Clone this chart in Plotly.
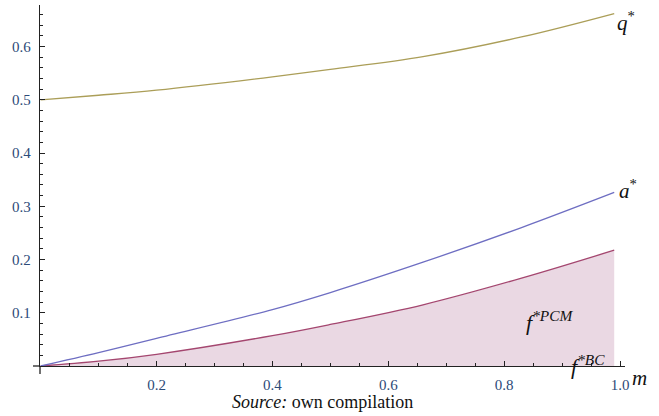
import plotly.graph_objects as go

# values
m_vals = [0.0, 0.1, 0.2, 0.4, 0.5, 0.66, 0.83, 0.99]
q_star = [0.500, 0.5085, 0.518, 0.543, 0.557, 0.581, 0.618, 0.662]
a_star = [0.000, 0.025, 0.052, 0.106, 0.138, 0.195, 0.260, 0.326]
f_pcm = [0.000, 0.009, 0.022, 0.057, 0.078, 0.115, 0.165, 0.2175]

x_tickvals = [0.2, 0.4, 0.6, 0.8, 1.0]
x_ticktext = ["0.2", "0.4", "0.6", "0.8", "1.0"]
y_tickvals = [0.1, 0.2, 0.3, 0.4, 0.5, 0.6]
y_ticktext = ["0.1", "0.2", "0.3", "0.4", "0.5", "0.6"]

serif = "Liberation Serif, Times New Roman, serif"
tick_color = "#2c4a78"

fig = go.Figure()
fig.add_trace(go.Scatter(x=m_vals, y=f_pcm, mode="lines", fill="tozeroy",
                         fillcolor="#ead8e3", line=dict(color="#a4466f", width=1.3, shape="spline"),
                         hoverinfo="skip"))
fig.add_trace(go.Scatter(x=m_vals, y=a_star, mode="lines",
                         line=dict(color="#6e6ec2", width=1.3, shape="spline"), hoverinfo="skip"))
fig.add_trace(go.Scatter(x=m_vals, y=q_star, mode="lines",
                         line=dict(color="#ab9e58", width=1.3, shape="spline"), hoverinfo="skip"))

axis_common = dict(showgrid=False, zeroline=False, showline=True, linecolor="#222", linewidth=1.3,
                   ticks="inside", ticklen=5, tickwidth=1.2, tickcolor="#222",
                   tickfont=dict(family=serif, size=15, color=tick_color))

fig.update_xaxes(range=[-0.0012, 1.0086], tickvals=x_tickvals, ticktext=x_ticktext,
                 minor=dict(dtick=0.05, tick0=0, ticks="inside", ticklen=3, tickcolor="#222", tickwidth=1),
                 ticklabelstandoff=5, **axis_common)
fig.update_yaxes(range=[0, 0.678], tickvals=y_tickvals, ticktext=y_ticktext,
                 minor=dict(dtick=0.02, tick0=0, ticks="inside", ticklen=3, tickcolor="#222", tickwidth=1),
                 ticklabelstandoff=5, **axis_common)

ann_font = dict(family=serif, size=21, color="#111")
annotations = [
    dict(x=0.99, y=0.662, text="<i>q</i><sup>*</sup>", xanchor="left", yanchor="middle", xshift=1, yshift=-8,
         font=ann_font),
    dict(x=0.99, y=0.326, text="<i>a</i><sup>*</sup>", xanchor="left", yanchor="middle", xshift=3, yshift=3,
         font=ann_font),
    dict(x=0.835, y=0.084, text="<i>f</i><sup><i>*PCM</i></sup>", xanchor="left", yanchor="middle",
         font=dict(family=serif, size=22, color="#111")),
    dict(x=0.912, y=0.0, text="<i>f</i><sup><i>*BC</i></sup>", xanchor="left", yanchor="middle", yshift=1,
         font=dict(family=serif, size=22, color="#111")),
    dict(x=1.0086, y=0.0, text="<i>m</i>", xanchor="left", yanchor="top", xshift=5, yshift=2,
         font=dict(family=serif, size=21, color="#111")),
    dict(x=0.5, xref="paper", y=-0.1, yref="paper", text="<i>Source:</i> own compilation",
         xanchor="center", yanchor="middle", xshift=-10,
         font=dict(family=serif, size=18, color="#111")),
]
for a in annotations:
    a.setdefault("xref", "x")
    a.setdefault("yref", "y")
    a["showarrow"] = False
fig.update_layout(annotations=annotations)

# small axis overhangs past the origin
fig.add_shape(type="line", xref="paper", yref="paper", x0=0, x1=0, y0=-0.022, y1=0,
              line=dict(color="#222", width=1.3))
fig.add_shape(type="line", xref="paper", yref="paper", x0=-0.012, x1=0, y0=0, y1=0,
              line=dict(color="#222", width=1.3))

fig.update_layout(width=659, height=416, margin=dict(l=40, r=34, t=5, b=50),
                  paper_bgcolor="white", plot_bgcolor="white", showlegend=False)

fig.write_html("out.html", config={"displayModeBar": False},
               post_script="document.body.style.margin='0';document.body.style.overflow='hidden';")
